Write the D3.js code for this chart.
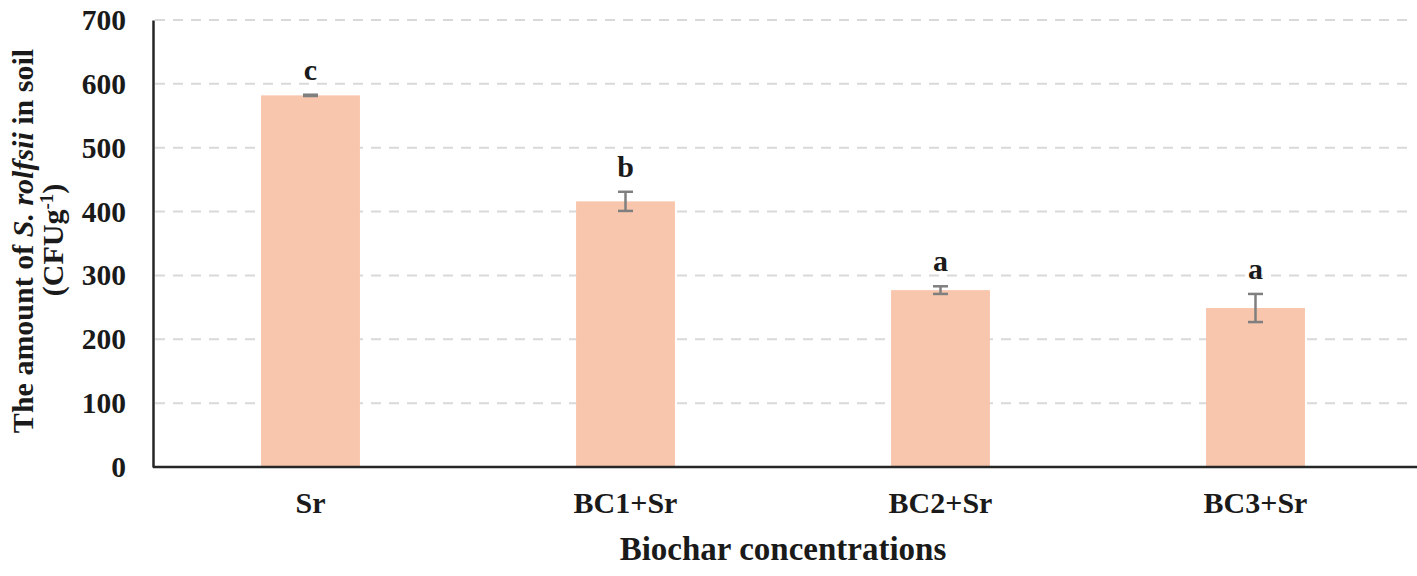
<!DOCTYPE html>
<html>
<head>
<meta charset="utf-8">
<script src="https://cdn.jsdelivr.net/npm/d3@7"></script>
<style>
  body { margin: 0; background: #fff; }
  text { font-family: "Liberation Serif", "Times New Roman", serif; font-weight: bold; fill: #1a1a1a; }
</style>
</head>
<body>
<svg></svg>
<script>
const categories = ["Sr", "BC1+Sr", "BC2+Sr", "BC3+Sr"];
const means = [582, 416, 277, 249];
const errors = [1, 15, 6, 22];
const letters = ["c", "b", "a", "a"];
const yTicks = [0, 100, 200, 300, 400, 500, 600, 700];

const width = 1417;
const height = 576;
const plotLeft = 153, plotRight = 1413, plotTop = 20, plotBottom = 467;

const svg = d3.select("svg").attr("width", width).attr("height", height);

const x = d3.scaleBand().domain(categories).range([plotLeft, plotRight]).paddingInner(0.686).paddingOuter(0.343);
const y = d3.scaleLinear().domain([0, 700]).range([plotBottom, plotTop]);

// dashed gridlines
svg.append("g")
  .selectAll("line")
  .data(yTicks.filter(d => d > 0))
  .join("line")
  .attr("x1", plotLeft + 2).attr("x2", 1407)
  .attr("y1", d => y(d)).attr("y2", d => y(d))
  .attr("stroke", "#d9d9d9").attr("stroke-width", 2)
  .attr("stroke-dasharray", "10,8");

const data = categories.map((c, i) => ({ c, v: means[i], e: errors[i], l: letters[i] }));

// bars
svg.append("g")
  .selectAll("rect")
  .data(data)
  .join("rect")
  .attr("x", d => x(d.c))
  .attr("width", x.bandwidth())
  .attr("y", d => y(d.v))
  .attr("height", d => y(0) - y(d.v))
  .attr("fill", "#f8c6ad");

// error bars
const eb = svg.append("g").attr("stroke", "#7f7f7f").attr("stroke-width", 2.5);
data.forEach(d => {
  const cx = x(d.c) + x.bandwidth() / 2;
  eb.append("line").attr("x1", cx).attr("x2", cx).attr("y1", y(d.v + d.e)).attr("y2", y(d.v - d.e));
  [d.v + d.e, d.v - d.e].forEach(v => {
    eb.append("line").attr("x1", cx - 7.5).attr("x2", cx + 7.5).attr("y1", y(v)).attr("y2", y(v));
  });
});

// significance letters
svg.append("g")
  .selectAll("text")
  .data(data)
  .join("text")
  .attr("x", d => x(d.c) + x.bandwidth() / 2)
  .attr("y", d => y(d.v + d.e) - 15)
  .attr("text-anchor", "middle")
  .style("font-size", "30px")
  .text(d => d.l);

// axes
const yAxis = d3.axisLeft(y).tickValues(yTicks).tickSize(0).tickPadding(27);
const gy = svg.append("g").attr("transform", `translate(${plotLeft},0)`).call(yAxis);
gy.select(".domain").attr("stroke", "#262626").attr("stroke-width", 2.5);
gy.selectAll("text").style("font-size", "29.5px");

const xAxis = d3.axisBottom(x).tickSize(0).tickPadding(25);
const gx = svg.append("g").attr("transform", `translate(0,${plotBottom})`).call(xAxis);
gx.select(".domain").attr("d", `M${plotLeft},0H${width}`).attr("stroke", "#262626").attr("stroke-width", 2.5);
gx.selectAll("text").style("font-size", "30px");

// axis titles
svg.append("text")
  .attr("x", (plotLeft + plotRight) / 2)
  .attr("y", 560)
  .attr("text-anchor", "middle")
  .style("font-size", "33px")
  .text("Biochar concentrations");

const yl = svg.append("text")
  .attr("transform", "translate(33,241) rotate(-90)")
  .attr("text-anchor", "middle")
  .style("font-size", "30px");
yl.append("tspan").text("The amount of ");
yl.append("tspan").style("font-style", "italic").text("S. rolfsii");
yl.append("tspan").text(" in soil");

const yl2 = svg.append("text")
  .attr("transform", "translate(63,240) rotate(-90)")
  .attr("text-anchor", "middle")
  .style("font-size", "30px");
yl2.append("tspan").text("(CFUg");
yl2.append("tspan").attr("dy", -10).style("font-size", "19px").text("-1");
yl2.append("tspan").attr("dy", 10).text(")");
</script>
</body>
</html>
